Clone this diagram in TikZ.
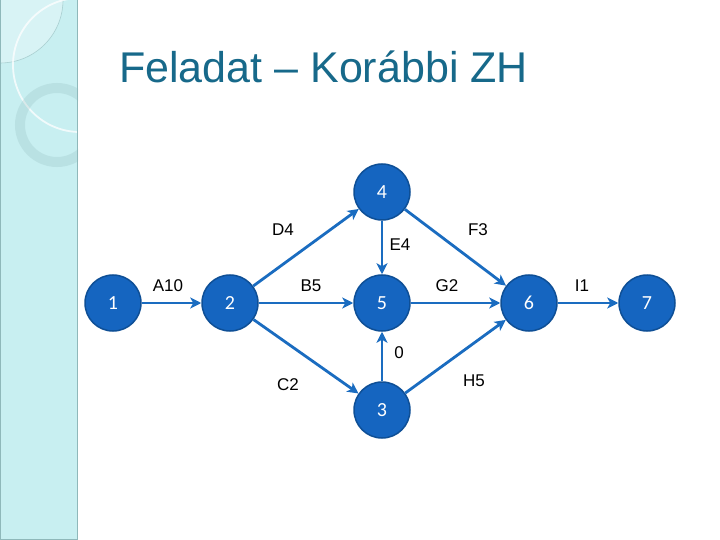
\documentclass[tikz,border=0pt]{standalone}
\usepackage{fontspec}
\setmainfont{Liberation Sans}
\newfontfamily\numfont{Carlito}
\usetikzlibrary{arrows.meta}
\definecolor{side}{HTML}{C8EFF1}
\definecolor{sideedge}{HTML}{8FB8BA}
\definecolor{ttl}{HTML}{17698A}
\definecolor{nodefill}{HTML}{1565C0}
\definecolor{nodeedge}{HTML}{0E4F96}
\definecolor{edgecol}{HTML}{1A6CC0}
\tikzset{
  ev/.style={circle, minimum size=56pt, inner sep=0pt, fill=nodefill, draw=nodeedge, line width=1.5pt, text=white, font=\numfont\fontsize{20}{24}\selectfont},
  act/.style={draw=edgecol, line width=2.8pt, -{Stealth[length=11pt,width=11pt,inset=3pt]}},
  lbl/.style={font=\fontsize{17}{20}\selectfont, text=black, inner sep=0pt}
}
\begin{document}
\begin{tikzpicture}[x=1pt,y=-1pt]
\useasboundingbox (0,0) rectangle (720,540);
\fill[white] (0,0) rectangle (720,540);
% sidebar
\fill[side] (0,0) rectangle (78,540);
\begin{scope}
\clip (0,0) rectangle (78,540);
\fill[white, opacity=0.3] (0,0) circle (63);
\draw[sideedge, opacity=0.6, line width=0.6pt] (0,0) circle (63);
\draw[white, opacity=0.75, line width=1.8pt] (80,65) circle (67);
\draw[sideedge, opacity=0.25, line width=10pt] (57,125) circle (37);
\end{scope}
\draw[sideedge, line width=1.2pt] (0.6,0) -- (0.6,540);
\draw[sideedge, line width=1.5pt] (77.5,0) -- (77.5,540);
\draw[sideedge, line width=1pt] (0,539.5) -- (78,539.5);
% title
\node[anchor=base west, text=ttl, font=\fontsize{43}{48}\selectfont, inner sep=0pt] (title) at (119,83) {Feladat – Korábbi ZH};
% events
\node[ev] (n1) at (113,303) {1};
\node[ev] (n2) at (230,303) {2};
\node[ev] (n4) at (382,192) {4};
\node[ev] (n5) at (382,303) {5};
\node[ev] (n3) at (382,410) {3};
\node[ev] (n6) at (529,303) {6};
\node[ev] (n7) at (647,303) {7};
% activities
\draw[act] (n1) -- (n2);
\draw[act] (n2) -- (n4);
\draw[act] (n2) -- (n5);
\draw[act] (n2) -- (n3);
\draw[act] (n4) -- (n5);
\draw[act] (n3) -- (n5);
\draw[act] (n4) -- (n6);
\draw[act] (n5) -- (n6);
\draw[act] (n3) -- (n6);
\draw[act] (n6) -- (n7);
% labels
\node[lbl] (lA) at (168,286) {A10};
\node[lbl] (lD) at (283,230) {D4};
\node[lbl] (lB) at (311,286) {B5};
\node[lbl] (lE) at (400,245) {E4};
\node[lbl] (lF) at (478,230) {F3};
\node[lbl] (lG) at (447,286) {G2};
\node[lbl] (lI) at (582,286) {I1};
\node[lbl] (l0) at (399,353) {0};
\node[lbl] (lC) at (288,385) {C2};
\node[lbl] (lH) at (474,381) {H5};
\end{tikzpicture}
\end{document}
